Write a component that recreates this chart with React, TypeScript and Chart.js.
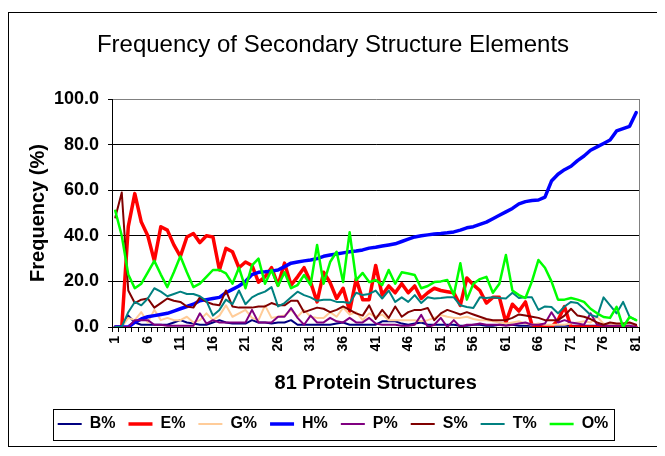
import React, { useEffect, useRef } from 'react';
import { Chart, registerables } from 'chart.js';

Chart.register(...registerables);

const FONT = "'Liberation Sans', Arial, sans-serif";

const CATEGORIES = [
  '1','2','3','4','5','6','7','8','9','10',
  '11','12','13','14','15','16','17','18','19','20',
  '21','22','23','24','25','26','27','28','29','30',
  '31','32','33','34','35','36','37','38','39','40',
  '41','42','43','44','45','46','47','48','49','50',
  '51','52','53','54','55','56','57','58','59','60',
  '61','62','63','64','65','66','67','68','69','70',
  '71','72','73','74','75','76','77','78','79','80',
  '81',
];

const X_TICK_LABELS = ['1','6','11','16','21','26','31','36','41','46','51','56','61','66','71','76','81'];

const B_PCT = [
  0,0,5,2,1,1,1,1,1,2, 3,2,1.5,1,1,2,3,2,1.5,1.5,
  1.5,3,2,2,1.5,2,2,3,1,1, 1,1,1,1,1.5,2,1,1,1,1,
  1,2.5,2.5,2.5,1.5,1,1.5,2,1,1, 1,1,1,0.5,0.5,1,1,0.5,0.5,1,
  1.5,1,0.5,0.5,0.5,0.5,0.5,0.5,0.5,0.5, 0.5,0.5,0.5,0.5,0.5,0.5,0.5,0.5,0.5,0.5,
  0.5,
];

const E_PCT = [
  0,0,44,58.5,46,40,29,44,42.5,36, 31,39.5,41,37,40,39.5,25,34.5,33,26,
  28.5,27,19.7,22,26,18.4,28,18.4,22,26, 19.7,11,24,19.5,12.5,17,7,21,12,12,
  27,14,18,15,19,15,18,12.5,15,17, 16,15.5,15,9.5,21.5,18.5,16,10.5,13,13,
  2,10,7,11,1,0,0,0,3,9, 0,0,0,0,0,0,0,0,0,0,
  0,
];

const G_PCT = [
  0,0,4,3,6.5,2,7.5,3,4,3, 3,4.5,2,3,6,3,5,9.5,4.5,6,
  7.5,4,3,9.5,4,4.5,5,7.5,4.5,7.5, 4.5,4,4,6.5,4.5,8.5,5.5,6.5,3,6,
  4.5,5.5,3,3,3,3,3,2.5,3,4, 5.3,4.5,4,4,4.5,3.5,3,3,2.5,2,
  1.5,2,2.5,1.5,1,1.5,1,1,1,1, 1.5,2,2.5,2,4.5,1.5,1,1,1,0.5,
  0,
];

const H_PCT = [
  0,0,0,2,3.5,4.5,5,5.5,6,7, 8,9,10,11.5,12,12.5,13,15,16.5,18,
  20,23,24,24.2,24.5,25,26.5,28,28.5,29, 29.4,30,31,31.6,32,32.5,33,33.3,33.8,34.6,
  35,35.5,36,36.5,37.5,38.5,39.5,40,40.4,40.8, 41,41.3,41.7,42.5,43.5,44,45,46,47.5,49,
  50.5,52,54,55,55.5,55.7,57,64,67,69, 70.5,73,75,77.5,79,80.5,82,86,87,88,
  94,
];

const P_PCT = [
  0,0,0,3,3,3,1,1,0.5,0.5, 0.5,0.5,0.5,6,1.5,3,2,2,2,2,
  2,7.5,2,2,2,4.5,4.5,8.3,4,1, 5,2,2,4,2.5,2,4,2,2,4,
  1.5,1,1,1,0.5,0.5,1,5.3,0,1, 4,0,3,0,1,1,1.5,1,1,1,
  0.5,1,1.5,2,1,1,1.5,6.5,2,3, 2,1.5,1,6,1,0.5,0.5,0.5,0.5,0.5,
  0,
];

const S_PCT = [
  48,59,16,10.5,12,12.5,8.5,10.5,12.5,11.5, 11,9,8.5,13,11,10,9.5,16,9,8.5,
  8.5,8.5,9,9,10.5,9.5,9.5,11.5,11.5,6.5, 7.5,8.5,8,6.5,7.5,9,7.5,6,5,9.5,
  3.5,7.5,4,9,4.5,6.5,7.5,7.5,8.3,3, 6,7.5,6.5,5.5,6.5,5.5,4.5,3.5,3,3,
  3,4,5.5,5,4.5,4,3,3,3,5, 8,5,4.5,3.5,2,1,2,1.5,1.5,2,
  1,
];

const T_PCT = [
  0,0,6.5,11,9.5,12.5,17,15.5,13.5,14.5, 15.5,14.5,14.5,13.5,11.5,5,7.5,12,10,16,
  10,13,14.5,15.5,17.5,9,10.5,13,15.5,14, 13,11.5,12,12,11,11,10.5,15,14,14.5,
  16,12.5,16,11,13,11,14,10.5,13,12.5, 12.7,13,13,9.5,8.8,8.3,13,12.7,13,12.7,
  12.5,15,12.7,13,13,7.5,9,8.8,6,9, 11,10.5,8,5.3,4.4,13,9.5,6,11,4.4,
  3,
];

const O_PCT = [
  51,40,23,17,19,24,29,23,17.5,24, 31,24,17.5,19,22,25,25,23.5,19,26,
  17,27,30,19,25,18,24,17,18.4,22.8, 18.4,36,19,28.5,33,19.7,41.6,20.6,23.7,19.7,
  20.6,18.4,25,19,24,23.5,22.8,17,18,19.7, 20,20.6,14,28,12,19,21,22,15,19,
  31.6,16,14,12.7,20,29.4,26,20,12,12, 12.7,12,11,8,6,4.4,4,8.8,0,4.4,
  3,
];

const SERIES = [
  { label: 'B%', data: B_PCT, color: '#000080', width: 2 },
  { label: 'E%', data: E_PCT, color: '#FF0000', width: 3.5 },
  { label: 'G%', data: G_PCT, color: '#FFCC99', width: 2 },
  { label: 'H%', data: H_PCT, color: '#0000FF', width: 3.5 },
  { label: 'P%', data: P_PCT, color: '#800080', width: 2 },
  { label: 'S%', data: S_PCT, color: '#800000', width: 2 },
  { label: 'T%', data: T_PCT, color: '#008080', width: 2 },
  { label: 'O%', data: O_PCT, color: '#00FF00', width: 2.5 },
];

const framePlugin = {
  id: 'framePlugin',
  beforeDatasetsDraw(chart: any) {
    const { ctx, chartArea: a } = chart;
    ctx.save();
    ctx.strokeStyle = '#808080';
    ctx.lineWidth = 1;
    ctx.beginPath();
    const x = Math.round(a.right) + 0.5;
    ctx.moveTo(x, a.top);
    ctx.lineTo(x, a.bottom);
    ctx.stroke();
    ctx.restore();
  },
  afterDraw(chart: any) {
    const lg = chart.legend;
    if (!lg || !lg.legendHitBoxes || !lg.legendHitBoxes.length) return;
    const boxes = lg.legendHitBoxes;
    const left = Math.min(...boxes.map((b: any) => b.left)) - 5;
    const right = Math.max(...boxes.map((b: any) => b.left + b.width)) + 5;
    const cy = boxes[0].top + boxes[0].height / 2;
    const { ctx } = chart;
    ctx.save();
    ctx.strokeStyle = '#000';
    ctx.lineWidth = 1;
    ctx.strokeRect(Math.round(left) + 0.5, Math.round(cy - 15.5) + 0.5, Math.round(right - left), 31);
    ctx.restore();
  },
};

export default function App() {
  const canvasRef = useRef<HTMLCanvasElement | null>(null);

  useEffect(() => {
    if (!canvasRef.current) return;
    const chart = new Chart(canvasRef.current, {
      type: 'line',
      data: {
        labels: CATEGORIES,
        datasets: SERIES.map((s, i) => ({
          label: s.label,
          data: s.data,
          borderColor: s.color,
          backgroundColor: s.color,
          borderWidth: s.width,
          pointRadius: 0,
          pointHoverRadius: 0,
          tension: 0,
          fill: false,
          borderJoinStyle: 'round' as const,
          borderCapStyle: 'round' as const,
          order: SERIES.length - 1 - i,
        })),
      },
      options: {
        responsive: false,
        animation: false,
        layout: { padding: { left: 14, right: 14, top: 0, bottom: 4 } },
        plugins: {
          tooltip: { enabled: false },
          title: {
            display: true,
            text: 'Frequency of Secondary Structure Elements',
            color: '#000',
            font: { family: FONT, size: 24, weight: 'normal' },
            padding: { top: 17.6, bottom: 39.6 },
          },
          legend: {
            display: true,
            position: 'bottom',
            labels: {
              usePointStyle: true,
              pointStyle: 'line',
              pointStyleWidth: 24,
              padding: 13,
              color: '#000',
              font: { family: FONT, size: 16, weight: 'bold' },
              sort: (a: any, b: any) => a.datasetIndex - b.datasetIndex,
            },
          },
        },
        scales: {
          x: {
            type: 'category',
            offset: true,
            grid: {
              offset: true,
              drawOnChartArea: false,
              drawTicks: true,
              tickLength: 5,
              color: '#000',
              tickColor: '#000',
            },
            border: { color: '#000', width: 1 },
            ticks: {
              autoSkip: false,
              minRotation: 90,
              maxRotation: 90,
              padding: 4,
              color: '#000',
              font: { family: FONT, size: 14, weight: 'bold' },
              callback: (_v: any, index: number) => {
                const l = CATEGORIES[index];
                return X_TICK_LABELS.includes(l) ? l : '';
              },
            },
            title: {
              display: true,
              text: '81 Protein Structures',
              color: '#000',
              font: { family: FONT, size: 20, weight: 'bold' },
              padding: { top: 0, bottom: 8 },
            },
            afterFit: (s: any) => { s.height = 76; },
          },
          y: {
            min: 0,
            max: 100,
            ticks: {
              stepSize: 20,
              padding: 9,
              color: '#000',
              font: { family: FONT, size: 18, weight: 'bold' },
              callback: (v: any) => Number(v).toFixed(1),
            },
            grid: {
              color: (ctx: any) => (ctx.tick && ctx.tick.value === 100 ? '#808080' : '#000'),
              tickColor: '#000',
              tickLength: 4,
              drawTicks: true,
            },
            border: { color: '#000', width: 1 },
            title: {
              display: true,
              text: 'Frequency (%)',
              color: '#000',
              font: { family: FONT, size: 20, weight: 'bold' },
              padding: { top: 3, bottom: 0 },
            },
            afterFit: (s: any) => { s.width = 89; },
          },
        },
      } as any,
      plugins: [framePlugin],
    });
    return () => chart.destroy();
  }, []);

  return (
    <div style={{ paddingTop: 4 }}>
      <div style={{ width: 648, height: 433, border: '1px solid #000', background: '#fff' }}>
        <canvas ref={canvasRef} width={648} height={433} style={{ display: 'block' }} />
      </div>
    </div>
  );
}
